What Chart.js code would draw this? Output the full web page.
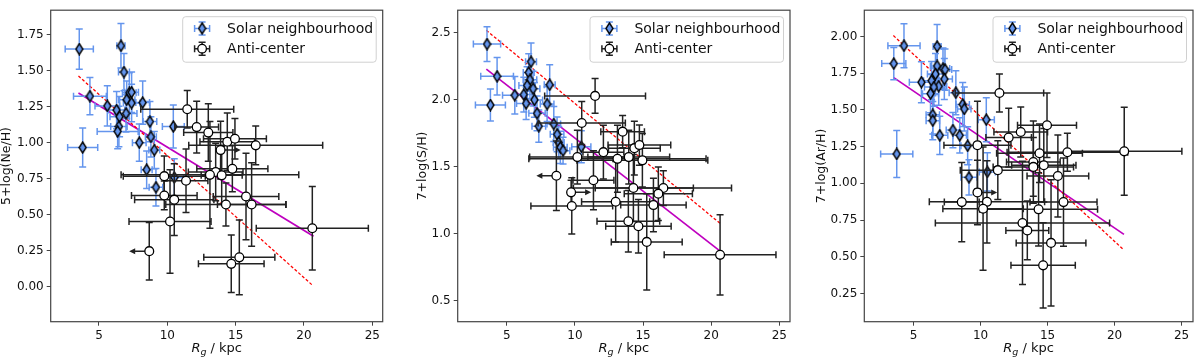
<!DOCTYPE html>
<html>
<head>
<meta charset="utf-8">
<script src="https://cdn.jsdelivr.net/npm/chart.js@4.4.1/dist/chart.umd.min.js"></script>
<style>
  html, body { margin: 0; padding: 0; background: #fff; }
  #wrap { position: relative; width: 1200px; height: 357px; }
  canvas { position: absolute; top: 0; }
</style>
</head>
<body>
<div id="wrap">
  <canvas id="c1" width="400" height="357" style="left:0"></canvas>
  <canvas id="c2" width="400" height="357" style="left:400px"></canvas>
  <canvas id="c3" width="400" height="357" style="left:800px"></canvas>
</div>
<script>
// tick labels
const xTicks = [5, 10, 15, 20, 25];
const neTicks = [0, 0.25, 0.5, 0.75, 1.0, 1.25, 1.5, 1.75];
const sTicks = [0.5, 1.0, 1.5, 2.0, 2.5];
const arTicks = [0.25, 0.5, 0.75, 1.0, 1.25, 1.5, 1.75, 2.0];

const seriesNames = ["Solar neighbourhood", "Anti-center"];
const yTitles = ["5+log(Ne/H)", "7+log(S/H)", "7+log(Ar/H)"];

// rows: [Rg, abundance, Rg error, abundance error, limit arrow (-1 left / 1 right)]
const neSolar = [
  [3.56, 1.65, 1.03, 0.14], [6.61, 1.673, 0.3, 0.155], [6.83, 1.49, 0.4, 0.13],
  [4.34, 1.323, 1.2, 0.13], [5.61, 1.255, 0.9, 0.14], [7.22, 1.346, 0.5, 0.14],
  [7.39, 1.35, 0.5, 0.14], [7.03, 1.298, 0.6, 0.13], [7.39, 1.275, 0.6, 0.13],
  [8.2, 1.278, 0.5, 0.15], [6.29, 1.226, 0.6, 0.13], [6.98, 1.203, 0.8, 0.13],
  [6.51, 1.18, 0.7, 0.14], [6.46, 1.112, 0.6, 0.14], [6.37, 1.078, 1.5, 0.12],
  [8.73, 1.146, 0.5, 0.14], [10.44, 1.112, 0.8, 0.15], [8.8, 1.04, 0.4, 0.14],
  [7.95, 1.0, 0.5, 0.13], [9.05, 0.948, 0.4, 0.13], [3.81, 0.966, 1.1, 0.135],
  [8.49, 0.812, 0.4, 0.13], [10.51, 0.758, 0.7, 0.13], [9.17, 0.69, 0.5, 0.13]
];
const neAnti = [
  [11.46, 1.232, 3.4, 0.13], [12.15, 1.108, 1.6, 0.18], [13.0, 1.07, 1.8, 0.2],
  [14.39, 1.006, 2.0, 0.2], [14.95, 1.027, 2.3, 0.14], [16.47, 0.981, 4.9, 0.135],
  [13.9, 0.948, 0, 0.2, 1], [14.76, 0.818, 2.6, 0.16], [13.54, 0.796, 2.0, 0.2],
  [13.98, 0.773, 1.5, 0.2], [13.12, 0.776, 6.5, 0.37], [9.78, 0.767, 3.0, 0.14],
  [11.37, 0.735, 1.6, 0.22], [9.78, 0.633, 2.4, 0.1], [10.51, 0.604, 2.9, 0.25],
  [14.29, 0.57, 4.4, 0.15], [15.76, 0.626, 2.4, 0.3], [16.17, 0.57, 2.5, 0.29],
  [10.2, 0.452, 3.0, 0.36], [20.61, 0.405, 4.1, 0.29], [8.68, 0.246, 0, 0.2, -1],
  [15.27, 0.203, 2.6, 0.26], [14.68, 0.158, 2.4, 0.2]
];
const sSolar = [
  [3.55, 2.417, 1.0, 0.13], [4.29, 2.176, 1.2, 0.14], [3.8, 1.962, 1.1, 0.12],
  [5.59, 2.035, 0.9, 0.14], [6.78, 2.285, 0.4, 0.14], [6.61, 2.205, 0.4, 0.14],
  [6.7, 2.15, 0.5, 0.14], [6.49, 2.108, 0.6, 0.14], [6.93, 2.084, 0.5, 0.13],
  [6.25, 2.04, 0.6, 0.13], [6.42, 1.974, 0.7, 0.12], [7.03, 2.0, 0.6, 0.13],
  [8.15, 2.113, 0.4, 0.15], [7.96, 1.969, 0.5, 0.13], [7.22, 1.9, 0.6, 0.13],
  [7.35, 1.804, 0.5, 0.12], [8.45, 1.82, 0.5, 0.13], [8.69, 1.743, 0.5, 0.13],
  [8.81, 1.682, 0.4, 0.12], [8.93, 1.646, 0.5, 0.12], [9.13, 1.621, 0.5, 0.1],
  [10.47, 1.65, 0.7, 0.12]
];
const sAnti = [
  [11.48, 2.03, 3.7, 0.13], [10.5, 1.828, 3.2, 0.16], [13.5, 1.763, 1.6, 0.12],
  [14.36, 1.64, 1.9, 0.2], [14.73, 1.663, 2.3, 0.15], [12.09, 1.61, 1.5, 0.2],
  [10.18, 1.573, 3.5, 0.2], [13.12, 1.56, 6.5, 0.25], [13.95, 1.573, 3.0, 0.2],
  [14.95, 1.549, 4.8, 0.2], [8.64, 1.434, 0, 0.26, -1], [11.36, 1.4, 1.5, 0.22],
  [14.29, 1.342, 4.4, 0.25], [16.49, 1.342, 5.0, 0.13], [16.12, 1.3, 2.5, 0.2],
  [9.72, 1.31, 0, 0.09, 1], [12.99, 1.24, 2.5, 0.3], [15.76, 1.215, 2.4, 0.2],
  [9.77, 1.208, 3.0, 0.21], [13.92, 1.094, 2.3, 0.23], [14.66, 1.057, 2.4, 0.2],
  [15.27, 0.94, 2.6, 0.36], [20.65, 0.843, 4.1, 0.3]
];
const arSolar = [
  [3.53, 1.816, 0.9, 0.11], [4.29, 1.938, 1.2, 0.15], [3.75, 1.2, 1.2, 0.16],
  [5.59, 1.689, 0.9, 0.14], [6.76, 1.933, 0.3, 0.15], [6.76, 1.8, 0.5, 0.15],
  [6.64, 1.745, 0.6, 0.14], [7.2, 1.782, 0.5, 0.14], [7.35, 1.775, 0.5, 0.14],
  [7.3, 1.711, 0.6, 0.14], [6.35, 1.7, 0.6, 0.13], [6.88, 1.662, 0.6, 0.13],
  [6.52, 1.656, 0.7, 0.13], [6.27, 1.611, 0.6, 0.13], [6.44, 1.467, 0.5, 0.13],
  [6.44, 1.427, 0.5, 0.13], [6.96, 1.327, 0.6, 0.13], [8.16, 1.618, 0.5, 0.15],
  [8.67, 1.538, 0.5, 0.15], [8.79, 1.507, 0.5, 0.15], [10.43, 1.434, 0.6, 0.15],
  [7.94, 1.363, 0.5, 0.12], [8.45, 1.327, 0.5, 0.12], [9.04, 1.256, 0.5, 0.13],
  [9.14, 1.041, 0.6, 0.12], [10.51, 1.078, 0.6, 0.13]
];
const arAnti = [
  [11.41, 1.616, 3.3, 0.13], [14.96, 1.396, 2.2, 0.22], [13.0, 1.35, 2.0, 0.17],
  [12.1, 1.312, 1.7, 0.2], [20.72, 1.218, 4.3, 0.3], [16.48, 1.212, 4.5, 0.13],
  [9.77, 1.26, 2.5, 0.3], [14.4, 1.205, 3.2, 0.2], [13.94, 1.145, 2.0, 0.28],
  [14.72, 1.123, 2.4, 0.25], [13.94, 1.112, 3.0, 0.2], [11.29, 1.09, 2.8, 0.2],
  [15.77, 1.05, 2.3, 0.28], [9.77, 0.938, 0, 0.22, 1], [10.48, 0.874, 4.3, 0.28],
  [8.6, 0.872, 1.3, 0.27], [16.19, 0.872, 2.5, 0.3], [10.19, 0.827, 3.0, 0.42],
  [14.33, 0.823, 4.4, 0.25], [13.13, 0.73, 6.5, 0.42], [13.49, 0.679, 1.6, 0.2],
  [15.26, 0.594, 2.6, 0.43], [14.67, 0.441, 2.4, 0.29]
];

// fitted gradients: end points [Rg, abundance]
const neFit = [[3.5, 1.345], [20.7, 0.35]];
const neFitDash = [[3.5, 1.463], [20.6, 0.011]];
const sFit = [[3.5, 2.23], [20.7, 0.867]];
const sFitDash = [[3.5, 2.52], [20.7, 1.074]];
const arFit = [[3.5, 1.722], [20.7, 0.652]];
const arFitDash = [[3.5, 2.007], [20.7, 0.545]];

const FONT = "DejaVu Sans";
const BLUE = "#6495ed";

function makeDiamond(w, h, fill) {
  const c = document.createElement("canvas");
  c.width = w;
  c.height = h;
  const g = c.getContext("2d");
  g.beginPath();
  g.moveTo(w / 2, 1);
  g.lineTo(w - 1, h / 2);
  g.lineTo(w / 2, h - 1);
  g.lineTo(1, h / 2);
  g.closePath();
  g.fillStyle = fill;
  g.fill();
  g.lineWidth = 1.4;
  g.strokeStyle = "#000";
  g.stroke();
  return c;
}
const diamond = makeDiamond(9, 13, BLUE);

function drawCapBar(ctx, x1, y1, x2, y2, cap, horiz) {
  ctx.beginPath();
  ctx.moveTo(x1, y1);
  ctx.lineTo(x2, y2);
  if (horiz) {
    ctx.moveTo(x1, y1 - cap); ctx.lineTo(x1, y1 + cap);
    ctx.moveTo(x2, y2 - cap); ctx.lineTo(x2, y2 + cap);
  } else {
    ctx.moveTo(x1 - cap, y1); ctx.lineTo(x1 + cap, y1);
    ctx.moveTo(x2 - cap, y2); ctx.lineTo(x2 + cap, y2);
  }
  ctx.stroke();
}

const errorBars = {
  id: "errorBars",
  beforeDatasetDraw(chart, args) {
    const ds = chart.data.datasets[args.index];
    if (!ds.rows) return;
    const xs = chart.scales.x, ys = chart.scales.y, ctx = chart.ctx;
    const a = chart.chartArea;
    ctx.save();
    ctx.beginPath();
    ctx.rect(a.left, a.top, a.right - a.left, a.bottom - a.top);
    ctx.clip();
    ctx.strokeStyle = ds.barColor;
    ctx.fillStyle = ds.barColor;
    ctx.lineWidth = 1.5;
    ds.rows.forEach((r) => {
      const px = xs.getPixelForValue(r[0]), py = ys.getPixelForValue(r[1]);
      if (r[2] > 0) {
        drawCapBar(ctx, xs.getPixelForValue(r[0] - r[2]), py, xs.getPixelForValue(r[0] + r[2]), py, 3.5, true);
      }
      if (r[3] > 0) {
        drawCapBar(ctx, px, ys.getPixelForValue(r[1] + r[3]), px, ys.getPixelForValue(r[1] - r[3]), 3.5, false);
      }
      if (r[4]) {
        const ex = xs.getPixelForValue(r[0] + r[4] * 1.25);
        ctx.beginPath();
        ctx.moveTo(px, py);
        ctx.lineTo(ex, py);
        ctx.stroke();
        ctx.beginPath();
        ctx.moveTo(ex + r[4] * 3, py);
        ctx.lineTo(ex - r[4] * 3, py - 3);
        ctx.lineTo(ex - r[4] * 3, py + 3);
        ctx.closePath();
        ctx.fill();
      }
    });
    ctx.restore();
  },
  afterDraw(chart) {
    const ctx = chart.ctx, a = chart.chartArea;
    ctx.save();
    // frame
    ctx.strokeStyle = "#444";
    ctx.lineWidth = 1.2;
    ctx.strokeRect(a.left, a.top, a.right - a.left, a.bottom - a.top);

    // legend
    const w = 193.5, h = 45.5;
    const x0 = a.right - 6.5 - w, y0 = a.top + 6.5;
    ctx.beginPath();
    ctx.roundRect(x0, y0, w, h, 3);
    ctx.fillStyle = "rgba(255,255,255,0.8)";
    ctx.fill();
    ctx.lineWidth = 1;
    ctx.strokeStyle = "#d0d0d0";
    ctx.stroke();
    const mx = x0 + 19.4;
    const rowsY = [y0 + 11.7, y0 + 32];
    [BLUE, "#222"].forEach((col, i) => {
      const my = rowsY[i];
      ctx.strokeStyle = col;
      ctx.lineWidth = 1.5;
      drawCapBar(ctx, mx - 7.5, my, mx + 7.5, my, 3.5, true);
      drawCapBar(ctx, mx, my - 6.5, mx, my + 6.5, 3.5, false);
      if (i === 0) {
        ctx.drawImage(diamond, mx - 4.5, my - 6.5);
      } else {
        ctx.beginPath();
        ctx.arc(mx, my, 4.3, 0, Math.PI * 2);
        ctx.fillStyle = "#fff";
        ctx.fill();
        ctx.lineWidth = 1.3;
        ctx.strokeStyle = "#000";
        ctx.stroke();
      }
      ctx.fillStyle = "#111";
      ctx.font = "14px " + FONT;
      ctx.textBaseline = "middle";
      ctx.textAlign = "left";
      ctx.fillText(seriesNames[i], x0 + 44.4, my + 0.5);
    });

    // x axis title: R_g / kpc
    const cx = (a.left + a.right) / 2, by = 352;
    ctx.fillStyle = "#111";
    ctx.textBaseline = "alphabetic";
    const f1 = "italic 13px " + FONT, f2 = "italic 9.5px " + FONT, f3 = "13px " + FONT;
    ctx.font = f1; const w1 = ctx.measureText("R").width;
    ctx.font = f2; const w2 = ctx.measureText("g").width;
    ctx.font = f3; const w3 = ctx.measureText(" / kpc").width;
    let tx = cx - (w1 + w2 + w3) / 2;
    ctx.font = f1; ctx.fillText("R", tx, by); tx += w1;
    ctx.font = f2; ctx.fillText("g", tx, by + 2.5); tx += w2;
    ctx.font = f3; ctx.fillText(" / kpc", tx, by);
    ctx.restore();
  }
};

function toXY(rows) {
  return rows.map((r) => ({ x: r[0], y: r[1] }));
}

const panels = [
  { id: "c1", solar: neSolar, anti: neAnti, fit: neFit, dash: neFitDash, ticks: neTicks,
    title: yTitles[0], dec: 2, xr: [1.47, 25.76], yr: [-0.244, 1.92], yw: 50.7, pr: 17.3, tpad: 0.5 },
  { id: "c2", solar: sSolar, anti: sAnti, fit: sFit, dash: sFitDash, ticks: sTicks,
    title: yTitles[1], dec: 1, xr: [1.4, 25.78], yr: [0.344, 2.67], yw: 57.7, pr: 10, tpad: 16 },
  { id: "c3", solar: arSolar, anti: arAnti, fit: arFit, dash: arFitDash, ticks: arTicks,
    title: yTitles[2], dec: 2, xr: [1.33, 25.85], yr: [0.057, 2.18], yw: 64.3, pr: 1.7, tpad: 15 }
];

panels.forEach((p) => {
  new Chart(document.getElementById(p.id), {
    type: "scatter",
    data: {
      datasets: [
        {
          label: "fit", data: toXY(p.fit), showLine: true, pointRadius: 0,
          borderColor: "#bf00bf", borderWidth: 1.7, order: 4
        },
        {
          label: "fit2", data: toXY(p.dash), showLine: true, pointRadius: 0,
          borderColor: "#ff0000", borderWidth: 1.3, borderDash: [3, 2], order: 3
        },
        {
          label: seriesNames[0], data: toXY(p.solar), rows: p.solar, barColor: BLUE,
          pointStyle: diamond, pointRadius: 6, order: 2
        },
        {
          label: seriesNames[1], data: toXY(p.anti), rows: p.anti, barColor: "#222",
          pointStyle: "circle", pointRadius: 4.4, pointBorderWidth: 1.3,
          pointBackgroundColor: "#fff", pointBorderColor: "#000", order: 1
        }
      ]
    },
    options: {
      responsive: false,
      animation: false,
      events: [],
      layout: { padding: { top: 2.7, right: p.pr, bottom: 0, left: 0 } },
      plugins: { legend: { display: false }, tooltip: { enabled: false } },
      scales: {
        x: {
          min: p.xr[0], max: p.xr[1],
          afterBuildTicks: (s) => { s.ticks = xTicks.map((v) => ({ value: v })); },
          afterFit: (s) => { s.height = 35.3; },
          grid: { drawOnChartArea: false, tickLength: 4, tickColor: "#444" },
          border: { display: false },
          ticks: { autoSkip: false, maxRotation: 0, padding: 3, color: "#111",
                   font: { family: FONT, size: 12 }, callback: (v) => String(v) }
        },
        y: {
          min: p.yr[0], max: p.yr[1],
          afterBuildTicks: (s) => { s.ticks = p.ticks.map((v) => ({ value: v })); },
          afterFit: (s) => { s.width = p.yw; },
          grid: { drawOnChartArea: false, tickLength: 4, tickColor: "#444" },
          border: { display: false },
          ticks: { autoSkip: false, padding: 3, color: "#111",
                   font: { family: FONT, size: 12 }, callback: (v) => v.toFixed(p.dec) },
          title: { display: true, text: p.title, color: "#111",
                   font: { family: FONT, size: 12.5, lineHeight: 1 }, padding: { top: p.tpad, bottom: 0 } }
        }
      }
    },
    plugins: [errorBars]
  });
});
</script>
</body>
</html>
